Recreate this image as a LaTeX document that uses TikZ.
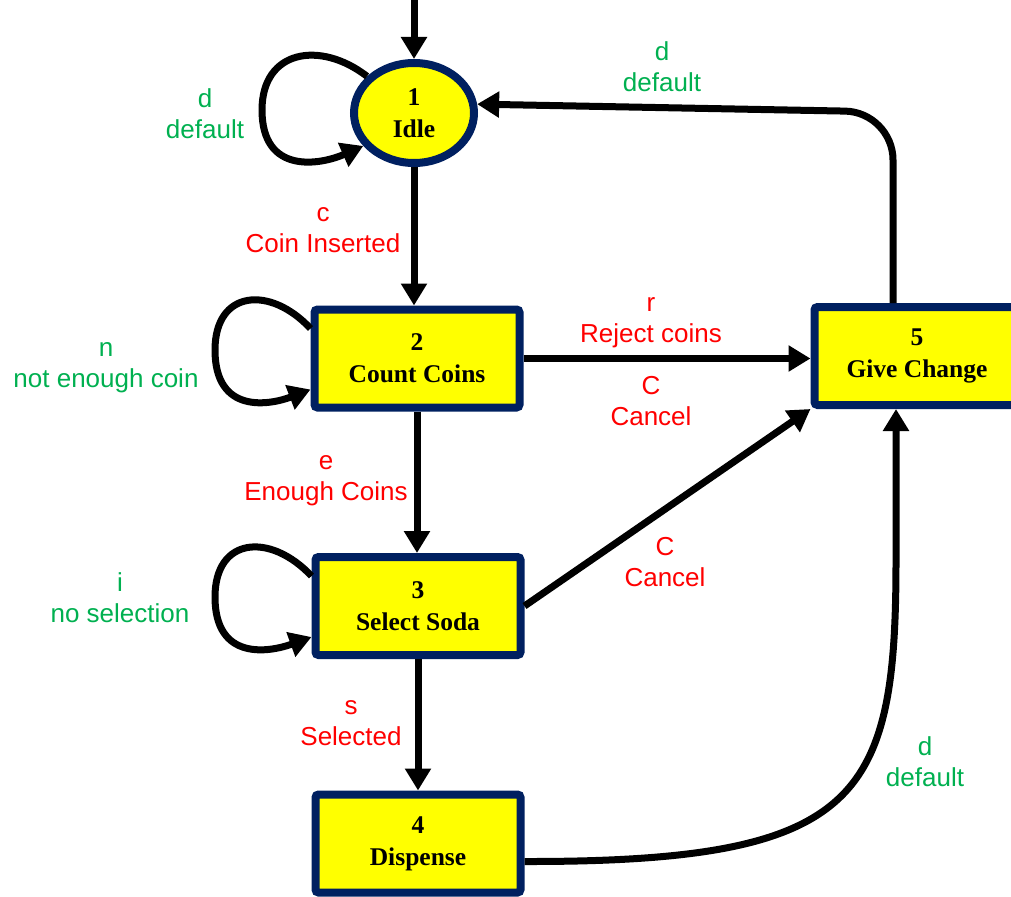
\documentclass[tikz,border=0pt]{standalone}
\usepackage{fontspec}
\setmainfont{Liberation Serif}
\newfontfamily\lblfont{Liberation Sans}
\usetikzlibrary{arrows.meta,shapes.geometric,shadows}
\definecolor{navy}{HTML}{002060}
\definecolor{statefill}{HTML}{FFFF00}
\definecolor{lblred}{HTML}{FF0000}
\definecolor{lblgreen}{HTML}{00B050}
\begin{document}
\begin{tikzpicture}[x=1pt,y=-1pt,
  state/.style={draw=navy, line width=8pt, fill=statefill, align=center, inner sep=0pt,
    font=\fontsize{25.5}{32}\selectfont\bfseries,
    drop shadow={shadow xshift=2pt, shadow yshift=-3pt, opacity=0.15, fill=black}},
  box/.style={state, rectangle, rounded corners=3pt, minimum width=205pt, minimum height=98pt},
  oval/.style={state, ellipse, minimum width=120pt, minimum height=100pt},
  arr/.style={line width=7pt, -{Triangle[length=22pt,width=25pt]}},
  lbl/.style={font=\lblfont\fontsize{26}{31}\selectfont, align=center, inner sep=0pt},
  evt/.style={lbl, text=lblred},
  dflt/.style={lbl, text=lblgreen}]
\useasboundingbox (0,0) rectangle (1011,896);

% states
\node[oval] (idle) at (414,113) {1\\Idle};
\node[box] (cc) at (417,358.5) {2\\Count Coins};
\node[box] (ss) at (418,606) {3\\Select Soda};
\node[box] (dp) at (418,843.5) {4\\Dispense};
\node[box] (gc) at (917,356) {5\\Give Change};

% free ends and bends
\coordinate (entry) at (414,-6);
\coordinate (gcCorner) at (893,112);

% initial transition
\draw[arr] (entry) -- (idle.north);

% self loops
\draw[arr] (idle.142) .. controls (320,40) and (262,50) .. (262,110)
  .. controls (262,175) and (320,165) .. (idle.213);
\draw[arr] ([yshift=-23pt]cc.north west) .. controls (270,285) and (215,290) .. (215,350)
  .. controls (215,415) and (270,405) .. ([yshift=22pt]cc.south west);
\draw[arr] ([yshift=-23pt]ss.north west) .. controls (270,532) and (215,537) .. (215,597)
  .. controls (215,662) and (270,652) .. ([yshift=22pt]ss.south west);

% forward transitions
\draw[arr] (idle.south) -- (idle.south |- cc.north);
\draw[arr] (cc.south) -- (cc.south |- ss.north);
\draw[arr] (ss.south) -- (ss.south |- dp.north);
\draw[arr] (cc.east) -- (cc.east -| gc.west);
\draw[arr] (ss.east) -- (gc.south west);
\draw[arr] ([yshift=-18pt]dp.east) .. controls (860,862) and (896,800) .. (896,560)
  -- ([xshift=-21pt]gc.south);
\draw[arr, rounded corners=48pt] ([xshift=-24pt]gc.north) -- (gcCorner) -- (idle.8);

% labels
\node[dflt] (lIdle) at (205,114) {d\\default};
\node[evt]  (lCoin) at (323,230) {c\\Coin Inserted};
\node[dflt] (lNot) at (106,368) {n\\not enough coin};
\node[evt]  (lRej) at (651,323) {r\\Reject coins};
\node[evt]  (lCan1) at (651,401) {C\\Cancel};
\node[evt]  (lEnough) at (326,481) {e\\Enough Coins};
\node[dflt] (lNoSel) at (120,598) {i\\no selection};
\node[evt]  (lCan2) at (665,562) {C\\Cancel};
\node[evt]  (lSel) at (351,723) {s\\Selected};
\node[dflt] (lDisp) at (925,762) {d\\default};
\node[dflt] (lGive) at (662,67) {d\\default};
\end{tikzpicture}
\end{document}
